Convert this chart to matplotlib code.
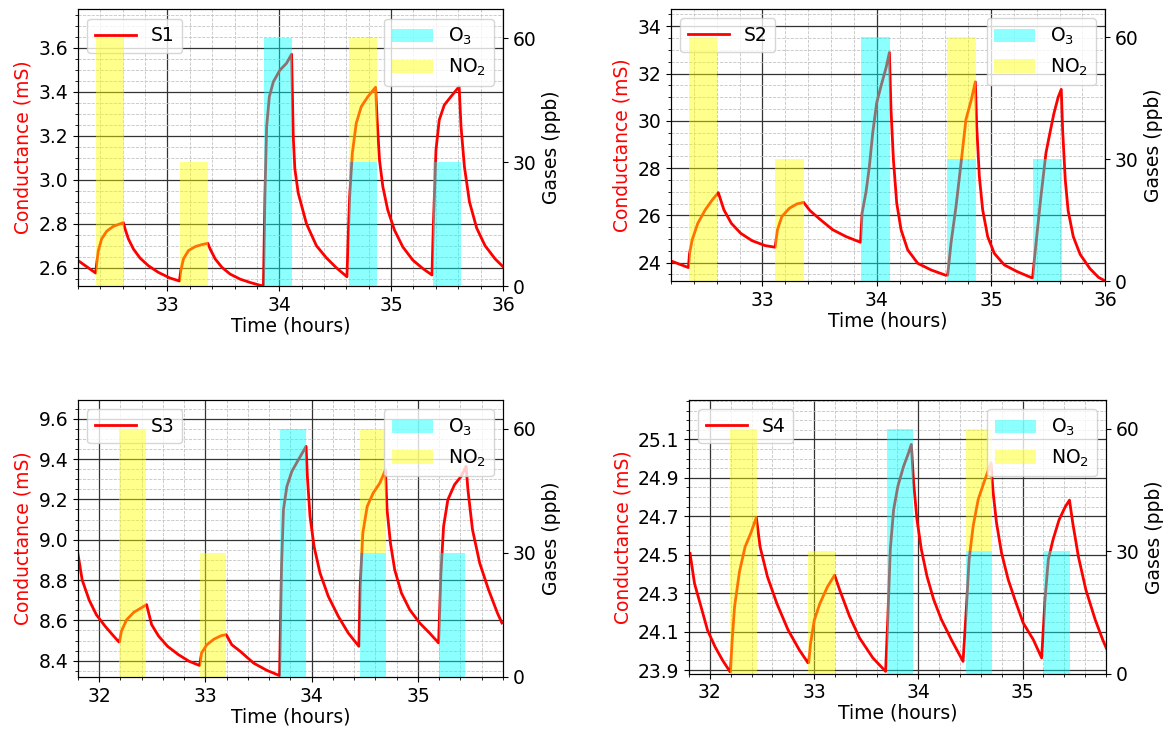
import matplotlib
matplotlib.use("Agg")
import matplotlib.pyplot as plt
from matplotlib.ticker import AutoMinorLocator
from matplotlib.patches import Patch

# ---------------- data ----------------
sensor_names = ["S1", "S2", "S3", "S4"]

t1 = [32.203, 32.358, 32.367, 32.382, 32.412, 32.457, 32.516, 32.606,
      32.621, 32.651, 32.696, 32.755, 32.83, 32.919, 33.024, 33.107,
      33.119, 33.143, 33.188, 33.248, 33.307, 33.361,
      33.382, 33.427, 33.487, 33.561, 33.651, 33.74, 33.83, 33.858,
      33.872, 33.887, 33.911, 33.947, 34.006, 34.065, 34.11,
      34.125, 34.139, 34.169, 34.243, 34.332, 34.421, 34.51, 34.605,
      34.614, 34.629, 34.653, 34.688, 34.733, 34.792, 34.861,
      34.875, 34.896, 34.926, 34.97, 35.03, 35.104, 35.193, 35.282, 35.365,
      35.377, 35.401, 35.43, 35.475, 35.534, 35.608,
      35.625, 35.655, 35.70, 35.765, 35.84, 35.93, 36.0]
g1 = [2.632, 2.576, 2.617, 2.678, 2.731, 2.766, 2.788, 2.805,
      2.777, 2.731, 2.685, 2.644, 2.609, 2.579, 2.553, 2.540,
      2.586, 2.64, 2.678, 2.696, 2.705, 2.711,
      2.685, 2.64, 2.602, 2.571, 2.548, 2.533, 2.520, 2.518,
      2.938, 3.241, 3.377, 3.445, 3.498, 3.529, 3.570,
      3.195, 3.05, 2.94, 2.80, 2.70, 2.645, 2.600, 2.559,
      2.711, 2.923, 3.12, 3.256, 3.332, 3.377, 3.42,
      3.271, 3.089, 2.968, 2.862, 2.771, 2.695, 2.635, 2.597, 2.567,
      2.786, 3.135, 3.271, 3.339, 3.377, 3.423,
      3.24, 3.06, 2.90, 2.78, 2.70, 2.64, 2.605]

t2 = [32.2, 32.352, 32.362, 32.385, 32.434, 32.499, 32.565, 32.614,
      32.663, 32.728, 32.81, 32.908, 33.023, 33.111,
      33.131, 33.17, 33.236, 33.301, 33.36,
      33.416, 33.499, 33.615, 33.732, 33.858,
      33.872, 33.907, 33.936, 33.965, 34.0, 34.038, 34.082, 34.111,
      34.125, 34.146, 34.175, 34.213, 34.271, 34.359, 34.475, 34.601,
      34.621, 34.65, 34.694, 34.738, 34.781, 34.825, 34.863,
      34.875, 34.898, 34.927, 34.971, 35.029, 35.117, 35.233, 35.356,
      35.364, 35.394, 35.437, 35.481, 35.51, 35.55, 35.588, 35.615,
      35.627, 35.65, 35.675, 35.72, 35.78, 35.865, 35.94, 36.0]
g2 = [24.07, 23.79, 24.39, 24.96, 25.66, 26.23, 26.68, 26.96,
      26.23, 25.66, 25.24, 24.93, 24.72, 24.65,
      25.38, 25.95, 26.3, 26.48, 26.55,
      26.2, 25.85, 25.39, 25.10, 24.86,
      26.09, 27.01, 28.08, 29.49, 30.77, 31.48, 32.25, 32.89,
      30.48, 28.36, 26.52, 25.39, 24.54, 23.97, 23.69, 23.47,
      23.47, 24.82, 26.38, 28.22, 30.06, 30.84, 31.65,
      29.78, 27.65, 26.24, 25.1, 24.39, 23.9, 23.61, 23.36,
      23.36, 24.82, 26.8, 28.64, 29.35, 30.3, 31.0, 31.33,
      29.6, 27.5, 26.2, 25.1, 24.35, 23.75, 23.38, 23.22]

t3 = [31.8, 31.84, 31.906, 31.973, 32.057, 32.124, 32.185,
      32.191, 32.208, 32.258, 32.326, 32.393, 32.446,
      32.493, 32.56, 32.644, 32.745, 32.846, 32.94,
      32.946, 32.963, 33.013, 33.081, 33.148, 33.195,
      33.248, 33.328, 33.453, 33.578, 33.697,
      33.716, 33.734, 33.766, 33.813, 33.875, 33.947,
      33.959, 33.984, 34.022, 34.078, 34.156, 34.25, 34.344, 34.444,
      34.456, 34.481, 34.522, 34.578, 34.641, 34.694,
      34.709, 34.741, 34.781, 34.844, 34.922, 35.016, 35.109, 35.194,
      35.216, 35.241, 35.281, 35.344, 35.406, 35.453,
      35.47, 35.513, 35.581, 35.664, 35.748, 35.79]
g3 = [8.929, 8.80, 8.70, 8.628, 8.57, 8.529, 8.493,
      8.493, 8.545, 8.603, 8.64, 8.661, 8.678,
      8.579, 8.521, 8.471, 8.43, 8.397, 8.377,
      8.377, 8.438, 8.479, 8.507, 8.524, 8.529,
      8.479, 8.446, 8.388, 8.352, 8.326,
      8.868, 9.149, 9.264, 9.339, 9.397, 9.463,
      9.314, 9.116, 8.967, 8.835, 8.719, 8.62, 8.537, 8.471,
      8.769, 9.033, 9.165, 9.231, 9.281, 9.347,
      9.149, 8.983, 8.851, 8.736, 8.653, 8.587, 8.537, 8.488,
      8.835, 9.066, 9.198, 9.273, 9.314, 9.364,
      9.248, 9.05, 8.884, 8.752, 8.636, 8.587]

t4 = [31.81, 31.853, 31.907, 31.978, 32.05, 32.122, 32.194,
      32.198, 32.212, 32.237, 32.284, 32.338, 32.392, 32.446,
      32.482, 32.553, 32.643, 32.751, 32.859, 32.941,
      32.948, 32.966, 33.002, 33.056, 33.128, 33.197,
      33.244, 33.34, 33.436, 33.564, 33.686,
      33.708, 33.731, 33.763, 33.804, 33.859, 33.901, 33.933,
      33.955, 33.987, 34.029, 34.083, 34.147, 34.221, 34.317, 34.429,
      34.462, 34.487, 34.526, 34.574, 34.628, 34.696,
      34.718, 34.75, 34.798, 34.862, 34.926, 35.006, 35.103, 35.183,
      35.215, 35.247, 35.291, 35.349, 35.41, 35.45,
      35.482, 35.536, 35.608, 35.698, 35.77, 35.805]
g4 = [24.507, 24.35, 24.246, 24.107, 24.021, 23.951, 23.891,
      23.891, 24.038, 24.229, 24.411, 24.541, 24.611, 24.694,
      24.541, 24.385, 24.246, 24.108, 24.004, 23.938,
      23.938, 24.038, 24.16, 24.247, 24.333, 24.394,
      24.319, 24.18, 24.067, 23.963, 23.893,
      24.18, 24.527, 24.735, 24.857, 24.961, 25.022, 25.074,
      24.874, 24.683, 24.527, 24.388, 24.267, 24.163, 24.058, 23.945,
      24.232, 24.475, 24.649, 24.787, 24.874, 24.978,
      24.822, 24.666, 24.51, 24.371, 24.267, 24.145, 24.058, 23.963,
      24.267, 24.475, 24.576, 24.68, 24.75, 24.784,
      24.663, 24.489, 24.316, 24.16, 24.056, 24.012]

times = [t1, t2, t3, t4]
conds = [g1, g2, g3, g4]

# exposure pulses (start time in hours, ppb)
pulse_starts = [
    [32.36, 33.112, 33.865, 34.62, 35.374],
    [32.355, 33.11, 33.862, 34.617, 35.37],
    [32.19, 32.946, 33.698, 34.45, 35.195],
    [32.198, 32.946, 33.70, 34.455, 35.205],
]
pulse_width = 0.25
o3_ppb = [0, 0, 60, 30, 30]
no2_ppb = [60, 30, 0, 30, 0]

xlims = [(32.2, 36.0), (32.2, 36.0), (31.8, 35.8), (31.8, 35.8)]
ylims = [(2.517, 3.774), (23.22, 34.73), (8.319, 9.693), (23.881, 25.305)]
yticks = [[2.6, 2.8, 3.0, 3.2, 3.4, 3.6],
          [24, 26, 28, 30, 32, 34],
          [8.4, 8.6, 8.8, 9.0, 9.2, 9.4, 9.6],
          [23.9, 24.1, 24.3, 24.5, 24.7, 24.9, 25.1]]
ytick_fmt = ["{:.1f}", "{:.0f}", "{:.1f}", "{:.1f}"]
xticks = [[33, 34, 35, 36], [33, 34, 35, 36], [32, 33, 34, 35], [32, 33, 34, 35]]

# axes rectangles (figure fraction)
rects = [
    [0.0668, 0.6098, 0.3642, 0.3775],
    [0.5750, 0.6166, 0.3721, 0.3711],
    [0.0668, 0.0764, 0.3642, 0.3779],
    [0.5904, 0.0809, 0.3573, 0.3734],
]

FS = 13.5
fig = plt.figure(figsize=(11.67, 7.33), dpi=100)

for i in range(4):
    ax = fig.add_axes(rects[i])
    ax.plot(times[i], conds[i], color="red", lw=2, label=sensor_names[i], zorder=3)
    ax.set_xlim(*xlims[i])
    ax.set_ylim(*ylims[i])
    ax.set_xticks(xticks[i])
    ax.set_yticks(yticks[i])
    ax.set_yticklabels([ytick_fmt[i].format(v) for v in yticks[i]])
    ax.xaxis.set_minor_locator(AutoMinorLocator(5))
    ax.yaxis.set_minor_locator(AutoMinorLocator(4))
    ax.grid(which="major", color="#333333", lw=0.9, ls="-")
    ax.grid(which="minor", color="#c4c4c4", lw=0.6, ls="--")
    ax.set_axisbelow(True)
    ax.tick_params(labelsize=FS)
    ax.set_xlabel("Time (hours)", fontsize=FS, labelpad=1)
    ax.set_ylabel("Conductance (mS)", color="red", fontsize=FS)
    ax.legend(loc="upper left", fontsize=FS, handlelength=2.2)

    ax2 = ax.twinx()
    ax2.bar(pulse_starts[i], o3_ppb, width=pulse_width, align="edge",
            color="cyan", alpha=0.45, lw=0)
    ax2.bar(pulse_starts[i], no2_ppb, width=pulse_width, bottom=o3_ppb, align="edge",
            color="yellow", alpha=0.45, lw=0)
    ax2.set_ylim(0, 67)
    ax2.set_yticks([0, 30, 60])
    ax2.tick_params(labelsize=FS)
    ax2.set_ylabel("Gases (ppb)", fontsize=FS)
    handles = [Patch(facecolor="cyan", alpha=0.45, label="O$_3$"),
               Patch(facecolor="yellow", alpha=0.45, label="NO$_2$")]
    ax2.legend(handles=handles, loc="upper right", fontsize=FS, handlelength=2.2)

fig.savefig("out.png", dpi=100)
